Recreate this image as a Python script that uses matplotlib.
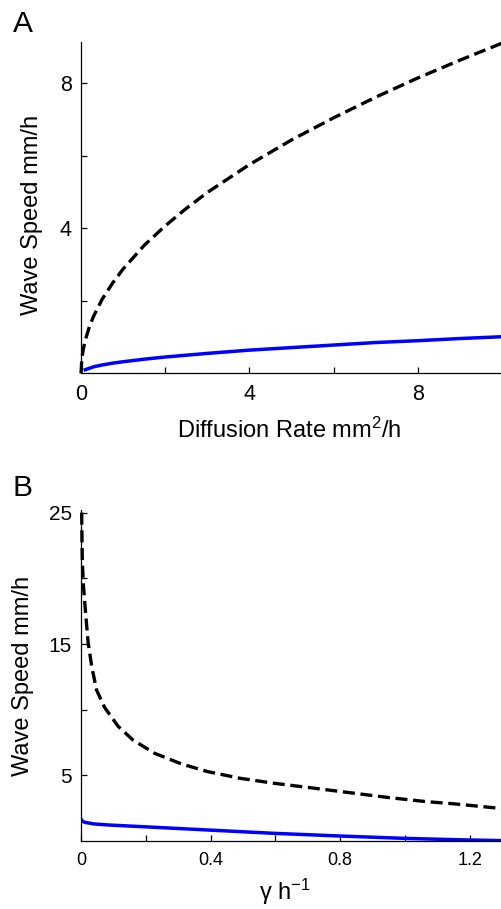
import matplotlib
matplotlib.use("Agg")
import matplotlib.pyplot as plt

plt.rcParams["font.family"] = ["Liberation Sans", "DejaVu Sans"]
plt.rcParams["mathtext.default"] = "regular"

# Panel A: wave speed vs diffusion rate
diff_dashed = [0, 0.02, 0.05, 0.1, 0.2, 0.3, 0.5, 0.75, 1, 1.5, 2, 2.5, 3, 4, 5, 6, 7, 8, 9, 10]
speed_dashed_a = [0, 0.41, 0.64, 0.91, 1.29, 1.58, 2.04, 2.49, 2.88, 3.53, 4.07, 4.55,
                  4.99, 5.76, 6.44, 7.05, 7.62, 8.15, 8.64, 9.11]
diff_solid = [0.1, 0.2, 0.3, 0.5, 0.75, 1, 1.5, 2, 3, 4, 5, 6, 7, 8, 9, 10]
speed_solid_a = [0.10, 0.14, 0.18, 0.23, 0.28, 0.32, 0.39, 0.45, 0.55, 0.64, 0.71,
                 0.78, 0.85, 0.90, 0.96, 1.01]

# Panel B: wave speed vs gamma
gamma_dashed = [0.002, 0.003, 0.004, 0.007, 0.014, 0.022, 0.033, 0.048, 0.072, 0.115,
                0.16, 0.227, 0.31, 0.39, 0.49, 0.595, 0.72, 0.82, 0.953, 1.065, 1.157, 1.3]
speed_dashed_b = [25.0, 22.9, 21.4, 19.6, 17.4, 15.1, 13.3, 11.5, 10.2, 8.72,
                  7.70, 6.68, 5.87, 5.29, 4.78, 4.40, 4.02, 3.71, 3.30, 3.00, 2.82, 2.47]
gamma_solid = [0, 0.005, 0.012, 0.04, 0.084, 0.19, 0.39, 0.6, 0.8, 1.0, 1.19, 1.3]
speed_solid_b = [1.65, 1.5, 1.42, 1.3, 1.22, 1.09, 0.84, 0.58, 0.38, 0.2, 0.08, 0.03]

fig = plt.figure(figsize=(5.02, 9.09), dpi=100)
axA = fig.add_axes([0.1614, 0.5893, 0.8386, 0.3648])
axB = fig.add_axes([0.1614, 0.0748, 0.8386, 0.3641])

dash = (0, (3.6, 1.7))
for ax in (axA, axB):
    for s in ("top", "right"):
        ax.spines[s].set_visible(False)
    for s in ("left", "bottom"):
        ax.spines[s].set_linewidth(0.9)
    ax.tick_params(direction="in", length=4, width=0.9, labelsize=15.5)
    ax.tick_params(axis="y", pad=6.5)
    ax.tick_params(axis="x", pad=8)

axA.plot(diff_dashed, speed_dashed_a, color="black", lw=2.4, linestyle=dash, clip_on=False)
axA.plot(diff_solid, speed_solid_a, color="#0000ff", lw=2.5)
axA.set_xlim(0, 10)
axA.set_ylim(0, 9.15)
axA.set_xticks([0, 2, 4, 6, 8, 10])
axA.set_xticklabels(["0", "", "4", "", "8", ""])
axA.set_yticks([2, 4, 6, 8])
axA.set_yticklabels(["", "4", "", "8"])
axA.set_xlabel("Diffusion Rate mm$^2$/h", fontsize=17, va="center")
axA.xaxis.set_label_coords(0.495, -0.171)
axA.set_ylabel("Wave Speed mm/h", fontsize=17, va="center")
axA.yaxis.set_label_coords(-0.116, 0.478)

axB.plot(gamma_dashed, speed_dashed_b, color="black", lw=2.4, linestyle=dash, clip_on=False)
axB.plot(gamma_solid, speed_solid_b, color="#0000ff", lw=2.5)
axB.set_xlim(0, 1.3)
axB.set_ylim(0, 25.2)
axB.set_xticks([0, 0.2, 0.4, 0.6, 0.8, 1.0, 1.2])
axB.set_xticklabels(["0", "", "0.4", "", "0.8", "", "1.2"])
axB.set_yticks([5, 10, 15, 20, 25])
axB.set_yticklabels(["5", "", "15", "", "25"])
axB.tick_params(axis="x", labelsize=13)
axB.tick_params(axis="y", labelsize=15)
axB.set_xlabel("\u03b3 h$^{-1}$", fontsize=17, va="center")
axB.xaxis.set_label_coords(0.485, -0.155)
axB.set_ylabel("Wave Speed mm/h", fontsize=17, va="center")
axB.yaxis.set_label_coords(-0.139, 0.5)

fig.text(0.026, 0.9648, "A", fontsize=21.5, va="baseline")
fig.text(0.024, 0.4543, "B", fontsize=21.5, va="baseline")

fig.savefig("out.png", dpi=100)
